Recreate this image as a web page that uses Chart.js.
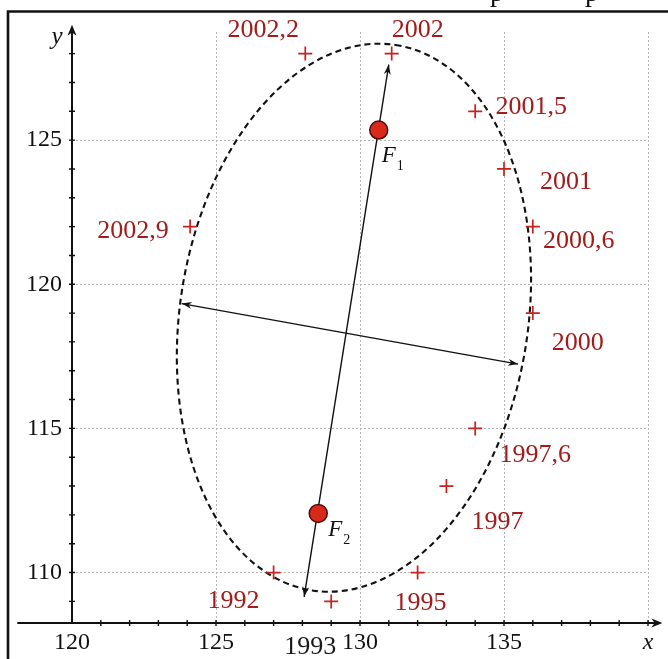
<!DOCTYPE html>
<html>
<head>
<meta charset="utf-8">
<script src="https://cdn.jsdelivr.net/npm/chart.js@4.4.0/dist/chart.umd.min.js"></script>
<style>
  html, body { margin: 0; padding: 0; background: #fff; }
  #wrap { position: relative; width: 668px; height: 659px; }
</style>
</head>
<body>
<div id="wrap"><canvas id="myChart" width="668" height="659"></canvas></div>
<script>
// observed points, labelled by year
var years = ['1992', '1993', '1995', '1997', '1997,6', '2000', '2000,6', '2001', '2001,5', '2002', '2002,2', '2002,9'];
var xs = [127, 129, 132, 133, 134, 136, 136, 135, 134, 131.1, 128.1, 124.1];
var ys = [110, 109, 110, 113, 115, 119, 122, 124, 126, 128, 128, 122];

// foci F1, F2
var fociNames = ['1', '2'];
var fociX = [130.65, 128.55];
var fociY = [125.35, 112.05];

// the two double arrows (major / minor axis)
var majorX = [128.06, 131.0];
var majorY = [109.16, 127.62];
var minorX = [123.81, 135.49];
var minorY = [119.33, 117.23];

// dashed ellipse: centre, half axes, tilt in degrees
var ellipseCentre = [129.79, 118.84];
var ellipseAxes = [9.58, 6.04];
var ellipseTilt = 81.3;

var xTicks = [120, 125, 130, 135, 140];
var yTicks = [110, 115, 120, 125];

// where each year label sits relative to its cross (px)
var labelOffsets = [[-40, 29], [-21, 46], [3, 31], [51, 36], [60, 27], [45, 30], [46, 15], [62, 13], [56, -4], [26, -23], [-42, -23], [-57, 5]];
var labelColors = years.map(y => y === '1993' ? '#1a1a1a' : '#a31b1b');
var fociLabelOffsets = [[3, 32], [10, 23]];

var SERIF = '"Liberation Serif", "DejaVu Serif", serif';
var RED = '#c4231e';

function arrowHead(ctx, x0, y0, x1, y1, len, half) {
  var ang = Math.atan2(y1 - y0, x1 - x0);
  ctx.save();
  ctx.translate(x1, y1);
  ctx.rotate(ang);
  ctx.beginPath();
  ctx.moveTo(0, 0);
  ctx.lineTo(-len, -half);
  ctx.lineTo(-len * 0.7, 0);
  ctx.lineTo(-len, half);
  ctx.closePath();
  ctx.fill();
  ctx.restore();
}

var figurePlugin = {
  id: 'figure',
  beforeDatasetsDraw(chart) {
    var ctx = chart.ctx, xs_ = chart.scales.x, ys_ = chart.scales.y;
    var ux = xs_.getPixelForValue(xs_.min + 1) - xs_.getPixelForValue(xs_.min);
    var uy = ys_.getPixelForValue(ys_.min) - ys_.getPixelForValue(ys_.min + 1);

    // dashed ellipse
    ctx.save();
    ctx.strokeStyle = '#111';
    ctx.lineWidth = 2.1;
    ctx.setLineDash([6, 4]);
    ctx.beginPath();
    ctx.ellipse(xs_.getPixelForValue(ellipseCentre[0]), ys_.getPixelForValue(ellipseCentre[1]),
      ellipseAxes[0] * ux, ellipseAxes[1] * uy, -ellipseTilt * Math.PI / 180, 0, Math.PI * 2);
    ctx.stroke();
    ctx.restore();

    // axes with arrows
    var ax0 = xs_.getPixelForValue(120), ay0 = ys_.getPixelForValue(108.25);
    var xLeft = xs_.getPixelForValue(118.1), xRight = xs_.getPixelForValue(140.5);
    var yTop = ys_.getPixelForValue(129.0);
    ctx.save();
    ctx.strokeStyle = '#111';
    ctx.fillStyle = '#111';
    ctx.lineWidth = 2;
    ctx.beginPath();
    ctx.moveTo(xLeft, ay0); ctx.lineTo(xRight - 4, ay0);
    ctx.moveTo(ax0, ay0); ctx.lineTo(ax0, yTop + 4);
    ctx.stroke();
    arrowHead(ctx, xLeft, ay0, xRight, ay0, 11, 4.5);
    arrowHead(ctx, ax0, ay0, ax0, yTop, 11, 4.5);

    // small ticks every unit
    ctx.lineWidth = 1.4;
    ctx.beginPath();
    for (var v = 121; v <= 140; v++) {
      var px = xs_.getPixelForValue(v);
      ctx.moveTo(px, ay0 - 3); ctx.lineTo(px, ay0 + 3);
    }
    for (var w = 109; w <= 128; w++) {
      var py = ys_.getPixelForValue(w);
      ctx.moveTo(ax0 - 3, py); ctx.lineTo(ax0 + 3, py);
    }
    ctx.stroke();

    // axis name y
    ctx.font = 'italic 25px ' + SERIF;
    ctx.textAlign = 'center';
    ctx.textBaseline = 'alphabetic';
    ctx.fillText('y', ax0 - 15, yTop + 19);
    ctx.restore();
  },
  afterDatasetsDraw(chart) {
    var ctx = chart.ctx;
    ctx.save();
    ctx.fillStyle = '#111';
    [2, 3].forEach(function (i) {
      var pts = chart.getDatasetMeta(i).data;
      arrowHead(ctx, pts[0].x, pts[0].y, pts[1].x, pts[1].y, 10, 3.5);
      arrowHead(ctx, pts[1].x, pts[1].y, pts[0].x, pts[0].y, 10, 3.5);
    });

    // year labels
    var pts = chart.getDatasetMeta(0).data;
    ctx.font = '26px ' + SERIF;
    ctx.textAlign = 'center';
    ctx.textBaseline = 'middle';
    years.forEach(function (t, i) {
      ctx.fillStyle = labelColors[i];
      ctx.fillText(t, pts[i].x + labelOffsets[i][0], pts[i].y + labelOffsets[i][1]);
    });

    // focus labels F1, F2
    var fp = chart.getDatasetMeta(1).data;
    ctx.fillStyle = '#111';
    ctx.textAlign = 'left';
    ctx.textBaseline = 'alphabetic';
    fociNames.forEach(function (n, i) {
      var bx = fp[i].x + fociLabelOffsets[i][0], by = fp[i].y + fociLabelOffsets[i][1];
      ctx.font = 'italic 23px ' + SERIF;
      ctx.fillText('F', bx, by);
      ctx.font = '14px ' + SERIF;
      ctx.fillText(n, bx + 15, by + 8);
    });
    ctx.restore();
  },
  afterDraw(chart) {
    var ctx = chart.ctx;
    ctx.save();
    // page frame of the scanned figure
    ctx.strokeStyle = '#111';
    ctx.lineWidth = 2.6;
    ctx.beginPath();
    ctx.moveTo(8, 659); ctx.lineTo(8, 11.5); ctx.lineTo(668, 11.5);
    ctx.stroke();
    // bits of the text line above, cut off by the frame
    ctx.fillStyle = '#111';
    ctx.font = '28px ' + SERIF;
    ctx.textAlign = 'center';
    ctx.textBaseline = 'alphabetic';
    ctx.fillText('p', 497, 1);
    ctx.fillText('p', 592, 1);
    ctx.restore();
  }
};

new Chart(document.getElementById('myChart'), {
  type: 'scatter',
  data: {
    datasets: [
      {
        label: 'years',
        data: xs.map((x, i) => ({ x: x, y: ys[i] })),
        pointStyle: 'cross',
        pointRadius: 7,
        pointBorderWidth: 1.7,
        borderColor: RED,
        backgroundColor: RED,
        order: 1
      },
      {
        label: 'foci',
        data: fociX.map((x, i) => ({ x: x, y: fociY[i] })),
        pointStyle: 'circle',
        pointRadius: 9,
        pointBorderWidth: 1.5,
        borderColor: '#4a0e0a',
        backgroundColor: '#d8291b',
        order: 0
      },
      {
        label: 'major',
        data: majorX.map((x, i) => ({ x: x, y: majorY[i] })),
        showLine: true,
        borderColor: '#111',
        borderWidth: 1.4,
        pointRadius: 0,
        order: 2
      },
      {
        label: 'minor',
        data: minorX.map((x, i) => ({ x: x, y: minorY[i] })),
        showLine: true,
        borderColor: '#111',
        borderWidth: 1.4,
        pointRadius: 0,
        order: 2
      }
    ]
  },
  options: {
    responsive: false,
    devicePixelRatio: 1,
    animation: false,
    layout: { padding: { left: 0, right: 20, top: 32, bottom: 0 } },
    plugins: { legend: { display: false }, tooltip: { enabled: false } },
    scales: {
      x: {
        type: 'linear',
        min: 120,
        max: 140,
        afterBuildTicks: s => { s.ticks = xTicks.map(v => ({ value: v })); },
        afterFit: s => { s.height = 36; },
        grid: { color: '#b4b4b4', lineWidth: 1, drawTicks: false },
        border: { display: false, dash: [2, 2] },
        ticks: {
          padding: 5,
          color: '#111',
          maxRotation: 0,
          autoSkip: false,
          font: c => ({ family: SERIF, size: 24, style: (c.tick && c.tick.value === 140) ? 'italic' : 'normal' }),
          callback: v => v === 140 ? 'x' : String(v)
        }
      },
      y: {
        type: 'linear',
        min: 108.25,
        max: 128.75,
        afterBuildTicks: s => { s.ticks = yTicks.map(v => ({ value: v })); },
        afterFit: s => { s.width = 72; },
        grid: { color: '#b4b4b4', lineWidth: 1, drawTicks: false },
        border: { display: false, dash: [2, 2] },
        ticks: {
          padding: 10,
          color: '#111',
          autoSkip: false,
          font: { family: SERIF, size: 24 },
          callback: v => String(v)
        }
      }
    }
  },
  plugins: [figurePlugin]
});
</script>
</body>
</html>
